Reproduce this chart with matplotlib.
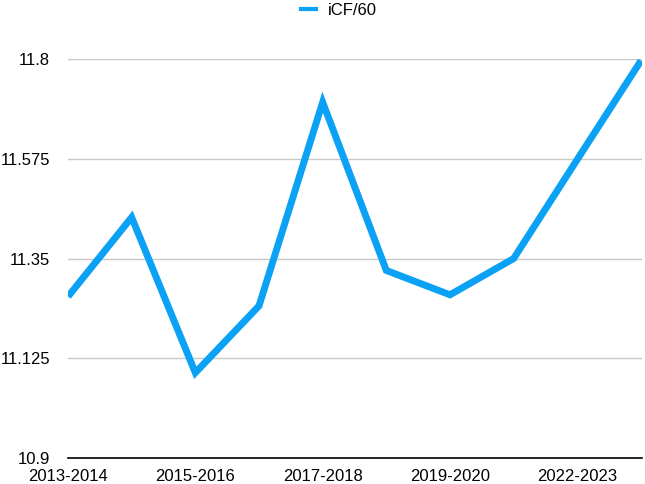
import matplotlib.pyplot as plt
from matplotlib.lines import Line2D

plt.rcParams['font.family'] = ['Liberation Sans', 'DejaVu Sans']

seasons = ['2013-2014', '2014-2015', '2015-2016', '2016-2017', '2017-2018',
           '2018-2019', '2019-2020', '2020-2021', '2022-2023', '2023-2024']
icf60 = [11.264, 11.443, 11.092, 11.243, 11.703, 11.323, 11.268, 11.35, 11.574, 11.797]
yticks = [10.9, 11.125, 11.35, 11.575, 11.8]
ytick_labels = ['10.9', '11.125', '11.35', '11.575', '11.8']

blue = '#0ba2f5'

fig = plt.figure(figsize=(6.45, 4.84), dpi=100)
ax = fig.add_axes([0.1054, 0.0543, 0.890, 0.8232])

x = list(range(len(seasons)))
ax.plot(x, icf60, color=blue, linewidth=5, solid_joinstyle='miter',
        solid_capstyle='butt', zorder=3)

ax.set_ylim(10.9, 11.8)
ax.set_xlim(0, 9.016)
ax.set_yticks(yticks)
ax.set_yticklabels(ytick_labels, fontsize=12)
ax.set_xticks(x[::2])
ax.set_xticklabels(seasons[::2], fontsize=12)
ax.tick_params(length=0, pad=13, axis='y')
ax.tick_params(length=0, pad=8, axis='x')

ax.grid(axis='y', color='#c8c8c8', linewidth=1)
for s in ['top', 'right', 'left']:
    ax.spines[s].set_visible(False)
ax.spines['bottom'].set_color('black')
ax.spines['bottom'].set_linewidth(1.2)

handle = Line2D([], [], color=blue, linewidth=3)
fig.legend([handle], ['iCF/60'], loc='center', bbox_to_anchor=(0.525, 0.979),
           frameon=False, fontsize=12, handlelength=0.9, handletextpad=0.7)

fig.savefig('out.png', dpi=100)
